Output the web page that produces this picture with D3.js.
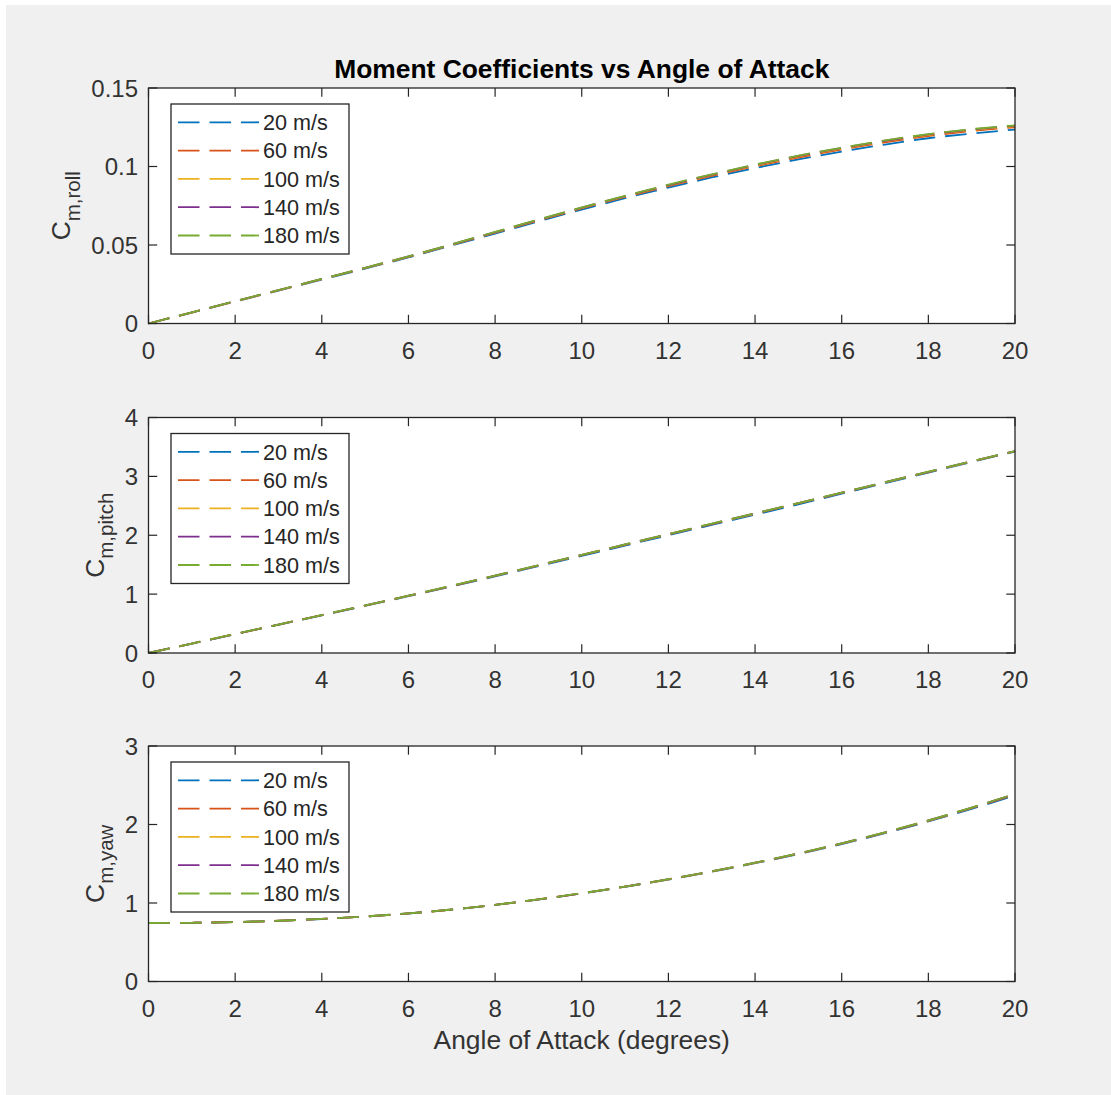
<!DOCTYPE html>
<html>
<head>
<meta charset="utf-8">
<script src="https://cdn.jsdelivr.net/npm/d3@7"></script>
<style>
  html, body { margin: 0; padding: 0; background: #ffffff; }
  text { font-family: "Liberation Sans", Arial, Helvetica, sans-serif; }
</style>
</head>
<body>
<svg id="chart" width="1111" height="1095"></svg>
<script>
// Angle of attack samples (degrees)
const angles = [0, 1, 2, 3, 4, 5, 6, 7, 8, 9, 10, 11, 12, 13, 14, 15, 16, 17, 18, 19, 20];
const speeds = ["20 m/s", "60 m/s", "100 m/s", "140 m/s", "180 m/s"];
const speedColors = ["#0072BD", "#D95319", "#EDB120", "#7E2F8E", "#77AC30"];

// Rolling moment coefficient per airspeed
const roll20  = [0, .0070, .0140, .0210, .0280, .0350, .0421, .0497, .0573, .0650, .0726, .0798, .0866, .0930, .0990, .1045, .1095, .1140, .1180, .1210, .1235];
const roll60  = [0, .0070, .0141, .0211, .0282, .0353, .0424, .0501, .0578, .0656, .0733, .0806, .0875, .0940, .1001, .1057, .1108, .1154, .1194, .1226, .1250];
const roll100 = [0, .0071, .0141, .0212, .0283, .0354, .0426, .0503, .0581, .0659, .0736, .0810, .0880, .0946, .1007, .1064, .1115, .1161, .1201, .1233, .1257];
const roll140 = [0, .0071, .0142, .0213, .0284, .0355, .0427, .0504, .0582, .0661, .0738, .0812, .0882, .0948, .1010, .1067, .1118, .1164, .1204, .1236, .1260];
const roll180 = [0, .0071, .0142, .0213, .0284, .0355, .0427, .0505, .0583, .0662, .0739, .0813, .0884, .0950, .1012, .1069, .1120, .1166, .1206, .1238, .1262];

// Pitching moment coefficient per airspeed
const pitch20  = [0, .160, .320, .480, .640, .800, .965, 1.130, 1.300, 1.475, 1.650, 1.825, 2.000, 2.175, 2.350, 2.525, 2.705, 2.885, 3.065, 3.245, 3.420];
const pitch60  = [0, .160, .321, .482, .643, .804, .970, 1.138, 1.310, 1.486, 1.662, 1.838, 2.014, 2.190, 2.366, 2.541, 2.719, 2.897, 3.074, 3.252, 3.426];
const pitch100 = [0, .161, .322, .483, .644, .806, .972, 1.141, 1.313, 1.489, 1.666, 1.842, 2.018, 2.194, 2.370, 2.545, 2.722, 2.900, 3.077, 3.254, 3.428];
const pitch140 = [0, .161, .322, .484, .645, .807, .973, 1.142, 1.314, 1.490, 1.667, 1.843, 2.019, 2.195, 2.371, 2.546, 2.723, 2.901, 3.078, 3.255, 3.429];
const pitch180 = [0, .161, .323, .484, .645, .807, .974, 1.143, 1.315, 1.491, 1.668, 1.844, 2.020, 2.196, 2.372, 2.547, 2.724, 2.902, 3.079, 3.256, 3.430];

// Yawing moment coefficient per airspeed
const yaw20  = [0.745, 0.748, 0.757, 0.773, 0.796, 0.827, 0.866, 0.915, 0.975, 1.044, 1.122, 1.207, 1.299, 1.399, 1.507, 1.624, 1.751, 1.889, 2.039, 2.200, 2.370];
const yaw60  = [0.745, 0.748, 0.757, 0.773, 0.797, 0.828, 0.867, 0.916, 0.976, 1.045, 1.123, 1.208, 1.301, 1.401, 1.510, 1.628, 1.756, 1.895, 2.046, 2.209, 2.382];
const yaw100 = [0.745, 0.748, 0.757, 0.774, 0.797, 0.828, 0.867, 0.916, 0.977, 1.046, 1.124, 1.209, 1.302, 1.403, 1.512, 1.630, 1.759, 1.898, 2.050, 2.213, 2.387];
const yaw140 = [0.745, 0.748, 0.757, 0.774, 0.797, 0.828, 0.868, 0.917, 0.977, 1.046, 1.124, 1.210, 1.303, 1.404, 1.513, 1.631, 1.760, 1.900, 2.052, 2.215, 2.389];
const yaw180 = [0.745, 0.748, 0.757, 0.774, 0.797, 0.828, 0.868, 0.917, 0.977, 1.047, 1.125, 1.210, 1.303, 1.404, 1.514, 1.632, 1.761, 1.901, 2.053, 2.216, 2.390];

// Tick values and labels
const angleTicks = [0, 2, 4, 6, 8, 10, 12, 14, 16, 18, 20];
const rollTicks = [0, 0.05, 0.1, 0.15];
const rollTickLabels = ["0", "0.05", "0.1", "0.15"];
const pitchTicks = [0, 1, 2, 3, 4];
const pitchTickLabels = ["0", "1", "2", "3", "4"];
const yawTicks = [0, 1, 2, 3];
const yawTickLabels = ["0", "1", "2", "3"];

const titleText = "Moment Coefficients vs Angle of Attack";
const xLabelText = "Angle of Attack (degrees)";

const panels = [
  { sub: "m,roll",  domain: [0, 0.15], ticks: rollTicks,  labels: rollTickLabels,  series: [roll20, roll60, roll100, roll140, roll180] },
  { sub: "m,pitch", domain: [0, 4],    ticks: pitchTicks, labels: pitchTickLabels, series: [pitch20, pitch60, pitch100, pitch140, pitch180] },
  { sub: "m,yaw",   domain: [0, 3],    ticks: yawTicks,   labels: yawTickLabels,   series: [yaw20, yaw60, yaw100, yaw140, yaw180] }
];

// Layout
const W = 1111, H = 1095;
const axLeft = 148.5, axRight = 1015;
const axTops = [88, 417.5, 746];
const axH = 235.5;
const axisColor = "#262626";
const tickLen = 8.7;
const tickFont = 24;
const labelFont = 26.4;

const svg = d3.select("#chart");

// Figure background
svg.append("rect").attr("width", W).attr("height", H).attr("fill", "#ffffff");
svg.append("rect").attr("x", 6).attr("y", 5).attr("width", W - 6).attr("height", H - 5).attr("fill", "#f0f0f0");

const x = d3.scaleLinear().domain([0, 20]).range([axLeft, axRight]);

panels.forEach((p, pi) => {
  const top = axTops[pi];
  const bottom = top + axH;
  const y = d3.scaleLinear().domain(p.domain).range([bottom, top]);
  const g = svg.append("g");

  // Plot area
  g.append("rect").attr("x", axLeft).attr("y", top)
    .attr("width", axRight - axLeft).attr("height", axH).attr("fill", "#ffffff");

  // Curves
  const line = d3.line().x((d, i) => x(angles[i])).y(d => y(d)).curve(d3.curveMonotoneX);
  p.series.forEach((vals, si) => {
    g.append("path").datum(vals)
      .attr("d", line)
      .attr("fill", "none")
      .attr("stroke", speedColors[si])
      .attr("stroke-width", 1.8)
      .attr("stroke-dasharray", "21.5 10");
  });

  // Ticks on all four sides, pointing inward
  const tk = g.append("g").attr("stroke", axisColor).attr("stroke-width", 1.2);
  angleTicks.forEach(t => {
    tk.append("line").attr("x1", x(t)).attr("x2", x(t)).attr("y1", bottom).attr("y2", bottom - tickLen);
    tk.append("line").attr("x1", x(t)).attr("x2", x(t)).attr("y1", top).attr("y2", top + tickLen);
  });
  p.ticks.forEach(t => {
    tk.append("line").attr("x1", axLeft).attr("x2", axLeft + tickLen).attr("y1", y(t)).attr("y2", y(t));
    tk.append("line").attr("x1", axRight).attr("x2", axRight - tickLen).attr("y1", y(t)).attr("y2", y(t));
  });

  // Axes box
  g.append("rect").attr("x", axLeft).attr("y", top)
    .attr("width", axRight - axLeft).attr("height", axH)
    .attr("fill", "none").attr("stroke", axisColor).attr("stroke-width", 1.3);

  // X tick labels
  g.selectAll(null).data(angleTicks).enter().append("text")
    .attr("x", d => x(d)).attr("y", bottom + 35)
    .attr("text-anchor", "middle").attr("font-size", tickFont).attr("fill", "#333333")
    .text(d => String(d));

  // Y tick labels
  const yl = g.selectAll(null).data(p.ticks).enter().append("text")
    .attr("x", axLeft - 10.5).attr("y", d => y(d) + 8.6)
    .attr("text-anchor", "end").attr("font-size", tickFont).attr("fill", "#333333")
    .text((d, i) => p.labels[i]);
  let maxW = 0;
  yl.each(function () { maxW = Math.max(maxW, this.getComputedTextLength()); });

  // Y axis label: C with subscript
  const bx = axLeft - 10.5 - maxW - 21;
  const lab = g.append("text")
    .attr("transform", `translate(${bx},${(top + bottom) / 2}) rotate(-90)`)
    .attr("text-anchor", "middle").attr("fill", "#333333").attr("font-size", labelFont);
  lab.append("tspan").text("C");
  lab.append("tspan").attr("font-size", 20.5).attr("dy", 9.5).text(p.sub);

  // Legend
  const lgX = axLeft + 22.5, lgY = top + 16, lgW = 178, lgH = 150;
  const lg = g.append("g");
  lg.append("rect").attr("x", lgX).attr("y", lgY).attr("width", lgW).attr("height", lgH)
    .attr("fill", "#ffffff").attr("stroke", axisColor).attr("stroke-width", 1.3);
  speeds.forEach((s, si) => {
    const ry = lgY + 18.3 + si * 28.3;
    lg.append("line").attr("x1", lgX + 7).attr("x2", lgX + 88).attr("y1", ry).attr("y2", ry)
      .attr("stroke", speedColors[si]).attr("stroke-width", 1.8).attr("stroke-dasharray", "21.5 10");
    lg.append("text").attr("x", lgX + 92).attr("y", ry + 7.7)
      .attr("font-size", 21.6).attr("fill", "#262626").text(s);
  });
});

// Title
svg.append("text").attr("x", (axLeft + axRight) / 2).attr("y", 77.5)
  .attr("text-anchor", "middle").attr("font-size", labelFont).attr("font-weight", "bold")
  .attr("fill", "#000000").text(titleText);

// X axis label
svg.append("text").attr("x", (axLeft + axRight) / 2).attr("y", 1049)
  .attr("text-anchor", "middle").attr("font-size", labelFont).attr("fill", "#333333")
  .text(xLabelText);
</script>
</body>
</html>
